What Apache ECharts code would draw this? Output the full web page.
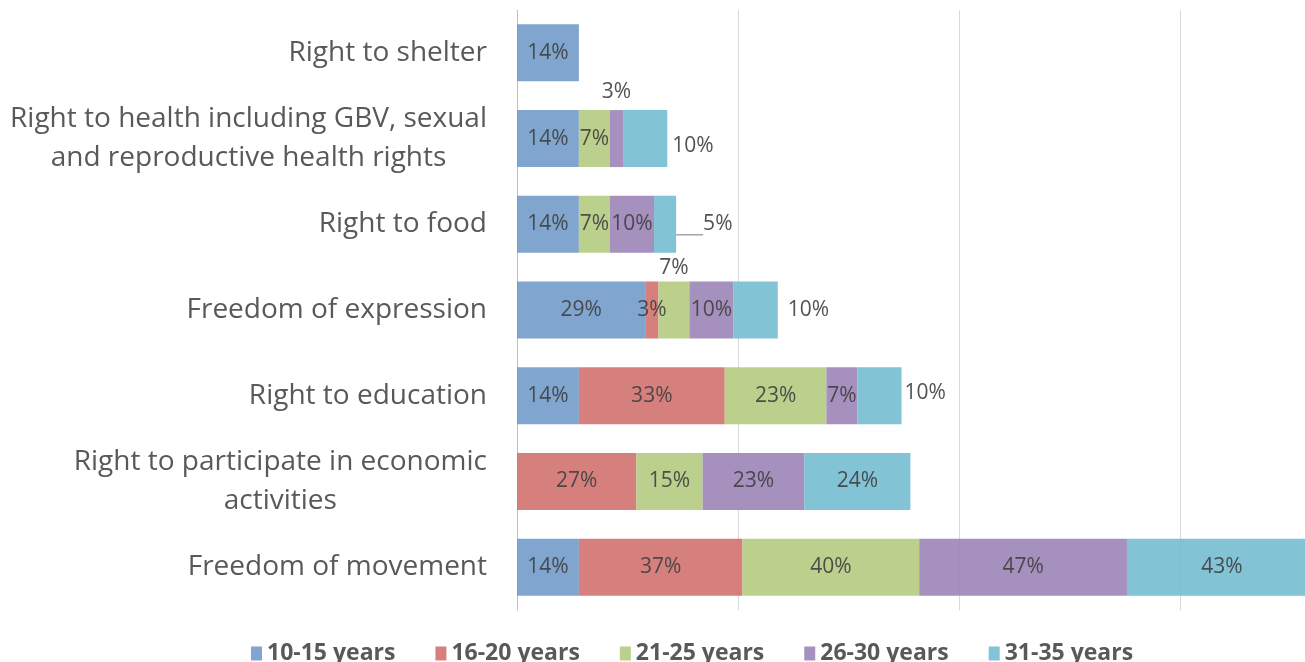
<!DOCTYPE html>
<html>
<head>
<meta charset="utf-8">
<script src="https://cdn.jsdelivr.net/npm/echarts@6/dist/echarts.min.js"></script>
<style>
  html, body { margin: 0; padding: 0; background: #fff; overflow: hidden; }
  /* the reference is cropped on the right, so the chart runs past the window */
  #chart { width: 1401px; height: 662px; }
</style>
</head>
<body>
<div id="chart"></div>
<script>
// data (percent per age group)
const categories = [
  'Right to shelter',
  'Right to health including GBV, sexual\nand reproductive health rights',
  'Right to food',
  'Freedom of expression',
  'Right to education',
  'Right to participate in economic\nactivities',
  'Freedom of movement'
];
const groups = ['10-15 years', '16-20 years', '21-25 years', '26-30 years', '31-35 years'];
const age10to15 = [14, 14, 14, 29, 14, null, 14];
const age16to20 = [null, null, null, 3, 33, 27, 37];
const age21to25 = [null, 7, 7, 7, 23, 15, 40];
const age26to30 = [null, 3, 10, 10, 7, 23, 47];
const age31to35 = [null, 10, 5, 10, 10, 24, 43];
const xTicks = [0, 50, 100, 150, 200];

const colors = ['#729CCA', '#D17270', '#B5CB81', '#9B84B7', '#74BDD1'];
const textColor = '#404040';
const labelFont = 'Open Sans';

// labels that sit outside the bar, keyed "series:index"
const outside = {
  '3:1': { label: { position: 'top', distance: 8 } },
  '4:1': { label: { position: 'right', distance: 5, offset: [0, 7] } },
  '4:2': { label: { position: 'right', distance: 27 }, labelLine: { show: true } },
  '2:3': { label: { position: 'top', distance: 3 } },
  '4:3': { label: { position: 'right', distance: 10 } },
  '4:4': { label: { position: 'right', distance: 3, offset: [0, -3] } }
};

function buildData(values, s) {
  return values.map(function (v, i) {
    const o = outside[s + ':' + i];
    if (v == null || !o) return v;
    return Object.assign({ value: v }, o);
  });
}

const allValues = [age10to15, age16to20, age21to25, age26to30, age31to35];

const chart = echarts.init(document.getElementById('chart'));
chart.setOption({
  animation: false,
  textStyle: { fontFamily: labelFont },
  grid: { left: 517, right: 0, top: 10, bottom: 52 },
  legend: {
    top: 637,
    left: 246,
    itemWidth: 11,
    itemHeight: 14,
    itemGap: 40,
    icon: 'rect',
    textStyle: { fontSize: 23, fontWeight: 'bold', color: '#595959', fontFamily: labelFont },
    data: groups
  },
  xAxis: {
    type: 'value',
    min: xTicks[0],
    max: xTicks[xTicks.length - 1],
    interval: 50,
    axisLabel: { show: false },
    axisLine: { show: false },
    axisTick: { show: false },
    splitLine: { lineStyle: { color: '#d9d9d9', width: 1 } }
  },
  yAxis: {
    type: 'category',
    inverse: true,
    data: categories,
    axisTick: { show: false },
    axisLine: { lineStyle: { color: '#bfbfbf', width: 1 } },
    axisLabel: {
      margin: 30,
      align: 'right',
      formatter: function (v) {
        return v.split('\n').map(function (s) { return '{c|' + s + '}'; }).join('\n');
      },
      rich: {
        c: { align: 'center', fontSize: 28, lineHeight: 39, color: '#595959', fontFamily: labelFont }
      }
    }
  },
  series: allValues.map(function (vals, s) {
    return {
      name: groups[s],
      type: 'bar',
      stack: 'total',
      barWidth: 57,
      data: buildData(vals, s),
      itemStyle: { color: colors[s], opacity: 0.9 },
      label: {
        show: true,
        position: 'inside',
        formatter: '{c}%',
        fontSize: 21,
        color: textColor,
        fontFamily: labelFont
      },
      labelLine: { show: false, lineStyle: { color: '#a6a6a6', width: 1.5 } }
    };
  })
});
</script>
</body>
</html>
